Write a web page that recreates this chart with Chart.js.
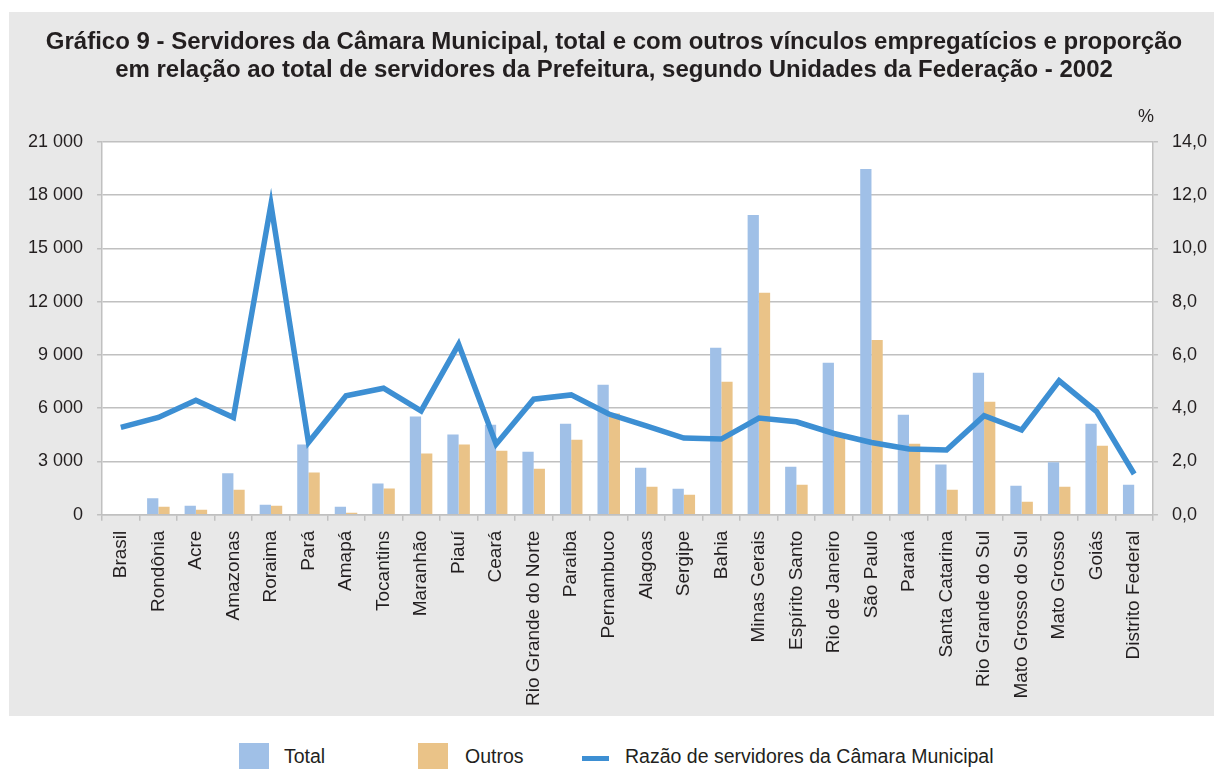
<!DOCTYPE html>
<html>
<head>
<meta charset="utf-8">
<script src="https://cdn.jsdelivr.net/npm/chart.js@4.4.1/dist/chart.umd.min.js"></script>
<style>
  html, body { margin: 0; padding: 0; background: #ffffff; width: 1214px; height: 769px; overflow: hidden; font-family: "Liberation Sans", Arial, sans-serif; }
  #panel { position: absolute; left: 9px; top: 12px; width: 1205px; height: 704px; background: #e8e8e8; }
  #wrap { position: absolute; left: 0; top: 0; width: 1205px; height: 704px; }
  #pct { position: absolute; left: 1138px; top: 106px; font-size: 18px; color: #231f20; }
  .box { position: absolute; top: 743px; width: 30px; height: 26px; }
  .lin { position: absolute; top: 756px; width: 27px; height: 5px; background: #3d8fd3; }
  .lt { position: absolute; top: 745px; font-size: 19.5px; color: #231f20; }
</style>
</head>
<body>
<div id="panel"><div id="wrap"><canvas id="c"></canvas></div></div>
<div id="pct">%</div>
<div class="box" style="left:239px;background:#a0c0e7"></div><div class="lt" style="left:284px">Total</div>
<div class="box" style="left:418px;background:#eac388"></div><div class="lt" style="left:465px">Outros</div>
<div class="lin" style="left:582px"></div><div class="lt" style="left:625px">Razão de servidores da Câmara Municipal</div>
<script>
const categories = ["Brasil","Rondônia","Acre","Amazonas","Roraima","Pará","Amapá","Tocantins","Maranhão","Piauí","Ceará","Rio Grande do Norte","Paraíba","Pernambuco","Alagoas","Sergipe","Bahia","Minas Gerais","Espírito Santo","Rio de Janeiro","São Paulo","Paraná","Santa Catarina","Rio Grande do Sul","Mato Grosso do Sul","Mato Grosso","Goiás","Distrito Federal"];
const totalValues = [null,920,510,2330,560,3960,450,1760,5530,4520,5070,3550,5120,7320,2650,1460,9400,16890,2700,8560,19480,5630,2830,8000,1630,2950,5120,1690];
const outrosValues = [null,450,280,1410,510,2380,110,1480,3450,3960,3600,2590,4220,5700,1580,1130,7490,12500,1690,4400,9850,4000,1410,6360,730,1580,3890,0];
const razaoValues = [3.28,3.65,4.3,3.65,11.65,2.71,4.47,4.75,3.9,6.4,2.65,4.34,4.5,3.78,3.34,2.88,2.84,3.63,3.49,3.05,2.71,2.47,2.43,3.72,3.18,5.03,3.87,1.53];
const leftTicks = [0,3000,6000,9000,12000,15000,18000,21000];
const rightTicks = [0,2,4,6,8,10,12,14];

const gridColor = '#c0c0c0';
const txt = '#231f20';
const fam = '"Liberation Sans", Arial, sans-serif';

const whiteArea = {
  id: 'whiteArea',
  beforeDraw(chart) {
    const {ctx, chartArea: a} = chart;
    ctx.save();
    ctx.fillStyle = '#ffffff';
    ctx.fillRect(a.left, a.top, a.right - a.left, a.bottom - a.top);
    ctx.restore();
  }
};

new Chart(document.getElementById('c'), {
  type: 'bar',
  data: {
    labels: categories,
    datasets: [
      { type: 'line', label: 'Razão de servidores da Câmara Municipal', data: razaoValues, yAxisID: 'y1', borderColor: '#3d8fd3', backgroundColor: '#3d8fd3', borderWidth: 5.5, pointRadius: 0, tension: 0, order: 0, borderJoinStyle: 'miter' },
      { label: 'Total', data: totalValues, backgroundColor: '#a0c0e7', yAxisID: 'y', order: 1, categoryPercentage: 0.6, barPercentage: 1.0 },
      { label: 'Outros', data: outrosValues, backgroundColor: '#eac388', yAxisID: 'y', order: 1, categoryPercentage: 0.6, barPercentage: 1.0 }
    ]
  },
  options: {
    responsive: true,
    maintainAspectRatio: false,
    animation: false,
    layout: { padding: { left: 5, right: 0, top: 0, bottom: 0 } },
    plugins: {
      legend: { display: false },
      tooltip: { enabled: false },
      title: {
        display: true,
        text: ['Gráfico 9 - Servidores da Câmara Municipal, total e com outros vínculos empregatícios e proporção', 'em relação ao total de servidores da Prefeitura, segundo Unidades da Federação - 2002'],
        color: txt,
        font: { family: fam, size: 24, weight: 'bold', lineHeight: 1.1667 },
        padding: { top: 16, bottom: 58 }
      }
    },
    scales: {
      x: {
        offset: true,
        grid: { offset: true, drawOnChartArea: false, drawTicks: true, tickLength: 6, color: gridColor, lineWidth: 1.5 },
        border: { display: true, color: gridColor, width: 1.5 },
        ticks: { autoSkip: false, maxRotation: 90, minRotation: 90, color: txt, font: { family: fam, size: 19 }, padding: 10 }
      },
      y: {
        position: 'left',
        min: 0, max: 21000,
        afterBuildTicks(s) { s.ticks = leftTicks.map(v => ({ value: v })); },
        grid: { color: gridColor, lineWidth: 1.5, tickLength: 5 },
        border: { display: true, color: gridColor, width: 1.5 },
        ticks: { color: txt, font: { family: fam, size: 18 }, padding: 14,
          callback: v => String(v).replace(/\B(?=(\d{3})+(?!\d))/g, ' ') }
      },
      y1: {
        position: 'right',
        min: 0, max: 14,
        afterBuildTicks(s) { s.ticks = rightTicks.map(v => ({ value: v })); },
        afterFit(s) { s.width = s.width - 7; },
        grid: { drawOnChartArea: false, color: gridColor, lineWidth: 1.5, tickLength: 5 },
        border: { display: true, color: gridColor, width: 1.5 },
        ticks: { color: txt, font: { family: fam, size: 18 }, padding: 14,
          callback: v => Number(v).toFixed(1).replace('.', ',') }
      }
    }
  },
  plugins: [whiteArea]
});
</script>
</body>
</html>
